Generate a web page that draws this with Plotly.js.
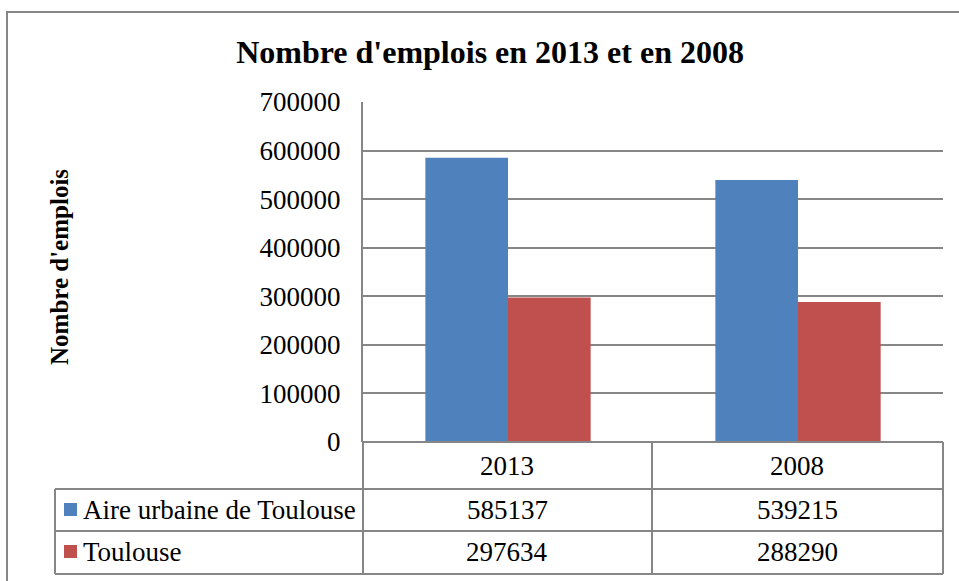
<!DOCTYPE html>
<html>
<head>
<meta charset="utf-8">
<script src="https://cdn.plot.ly/plotly-3.0.1.min.js"></script>
<style>
html,body{margin:0;padding:0;background:#fff;}
#chart{width:959px;height:581px;}
</style>
</head>
<body>
<div id="chart"></div>
<script>
// ---- data ----
const categories = ["2013", "2008"];
const seriesNames = ["Aire urbaine de Toulouse", "Toulouse"];
const aireUrbaine = [585137, 539215];
const toulouse = [297634, 288290];
const yTicks = [0, 100000, 200000, 300000, 400000, 500000, 600000, 700000];

const colors = ["#4F81BD", "#C0504D"];
const series = [aireUrbaine, toulouse];
const grid = "#868686";
const font = "Liberation Serif, Times New Roman, serif";

// pixel -> paper helpers (plot area: x 363..943, y 102..442)
const L = 363, R = 943, T = 102, B = 442;
const px = v => (v - L) / (R - L);
const py = v => (B - v) / (B - T);

const traces = series.map((vals, i) => ({
  type: "bar",
  name: seriesNames[i],
  x: categories,
  y: vals,
  marker: {color: colors[i]},
  showlegend: false,
  hoverinfo: "x+y"
}));

const shapes = [];
const line = (x0, y0, x1, y1) => shapes.push({
  type: "line", xref: "paper", yref: "paper",
  x0: px(x0), y0: py(y0), x1: px(x1), y1: py(y1),
  line: {color: grid, width: 2}
});
// outer chart border
shapes.push({type: "rect", xref: "paper", yref: "paper",
  x0: px(7), y0: py(1000), x1: px(2000), y1: py(12),
  line: {color: grid, width: 2}, fillcolor: "rgba(0,0,0,0)"});
// data table
const rowLines = [489, 531, 574];
rowLines.forEach(y => line(55, y, 943, y));
line(363, 442, 943, 442);
line(363, 442, 363, 574);
line(652, 442, 652, 574);
line(943, 442, 943, 574);
line(55, 489, 55, 574);

const annotations = [];
const colCenters = [507, 797];
const tfont = {family: font, size: 27, color: "#000"};
categories.forEach((c, j) => {
  annotations.push({xref: "paper", yref: "paper", x: px(colCenters[j]), y: py(466),
    text: c, showarrow: false, xanchor: "center", yanchor: "middle", font: tfont});
  series.forEach((vals, i) => {
    annotations.push({xref: "paper", yref: "paper", x: px(colCenters[j]), y: py(rowLines[i] + 21),
      text: String(vals[j]), showarrow: false, xanchor: "center", yanchor: "middle", font: tfont});
  });
});
seriesNames.forEach((n, i) => {
  const yc = (i === 0 ? 510 : 552);
  shapes.push({type: "rect", xref: "paper", yref: "paper",
    x0: px(64), x1: px(77), y0: py(yc + 6), y1: py(yc - 7),
    fillcolor: colors[i], line: {width: 0}});
  annotations.push({xref: "paper", yref: "paper", x: px(81), y: py(yc),
    text: n, showarrow: false, xanchor: "left", yanchor: "middle", font: tfont});
});
// y axis title
annotations.push({xref: "paper", yref: "paper", x: px(59), y: py(267),
  text: "<b>Nombre d'emplois</b>", textangle: -90, showarrow: false,
  xanchor: "center", yanchor: "middle",
  font: {family: font, size: 25, color: "#000"}});

const layout = {
  width: 959, height: 581,
  margin: {l: L, r: 959 - R, t: T, b: 581 - B, pad: 0},
  paper_bgcolor: "#fff", plot_bgcolor: "#fff",
  font: {family: font, color: "#000"},
  title: {text: "<b>Nombre d'emplois en 2013 et en 2008</b>",
    font: {family: font, size: 32, color: "#000"},
    x: 0.511, xanchor: "center", y: 1 - 52 / 581, yanchor: "middle"},
  bargap: 0.43, bargroupgap: 0,
  barmode: "group",
  xaxis: {type: "category", showticklabels: false, showgrid: false,
    showline: false, zeroline: false, ticks: "", fixedrange: true},
  yaxis: {range: [0, 700000], tickvals: yTicks, ticktext: yTicks.map(String),
    showgrid: true, gridcolor: grid, gridwidth: 2, zeroline: false,
    showline: true, linecolor: grid, linewidth: 2,
    ticks: "", ticklabelstandoff: 15,
    tickfont: {family: font, size: 27, color: "#000"}},
  shapes: shapes,
  annotations: annotations
};

Plotly.newPlot("chart", traces, layout, {displayModeBar: false, staticPlot: true});
</script>
</body>
</html>
